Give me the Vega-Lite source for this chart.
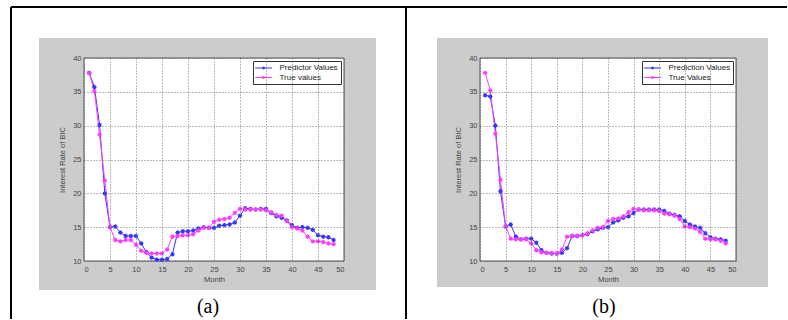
{
  "$schema": "https://vega.github.io/schema/vega-lite/v6.json",
  "background": "white",
  "padding": {"left": 9, "top": 5, "right": 0, "bottom": 0},
  "bounds": "flush",
  "spacing": 136,
  "config": {
    "view": {"stroke": null},
    "font": "Liberation Sans",
    "axis": {"labelOverlap": false, "grid": true, "gridDash": [1, 2], "gridColor": "#555555", "gridOpacity": 0.8, "ticks": false, "domain": false, "labelFontSize": 7.5, "labelColor": "#444444", "titleFontSize": 7.5, "titleFontWeight": "normal", "titleColor": "#444444", "zindex": 2},
    "axisX": {"tickCount": 10, "labelPadding": 4, "titlePadding": 3},
    "axisY": {"tickCount": 6, "labelPadding": 3, "titlePadding": 6},
    "legend": {"title": null, "orient": "top-right", "offset": 3, "fillColor": "white", "strokeColor": "#333333", "padding": 2.5, "labelFontSize": 8, "labelColor": "#222222", "symbolType": "M-1.2,0L3.0,0M0.5,0L1.3,0M0.9,-0.35L0.9,0.35M0.65,-0.25L1.15,0.25M0.65,0.25L1.15,-0.25", "symbolSize": 64, "symbolStrokeWidth": 1, "labelOffset": 15, "rowPadding": 0.5}
  },
  "datasets": {
    "a": [
      {"month": 1, "pred": 37.8, "true": 37.8},
      {"month": 2, "pred": 35.7, "true": 35.1},
      {"month": 3, "pred": 30.1, "true": 28.7},
      {"month": 4, "pred": 20.0, "true": 21.9},
      {"month": 5, "pred": 15.0, "true": 15.0},
      {"month": 6, "pred": 15.1, "true": 13.1},
      {"month": 7, "pred": 14.2, "true": 12.9},
      {"month": 8, "pred": 13.7, "true": 13.1},
      {"month": 9, "pred": 13.7, "true": 13.1},
      {"month": 10, "pred": 13.7, "true": 12.4},
      {"month": 11, "pred": 12.6, "true": 11.5},
      {"month": 12, "pred": 11.3, "true": 11.2},
      {"month": 13, "pred": 10.5, "true": 11.1},
      {"month": 14, "pred": 10.2, "true": 11.1},
      {"month": 15, "pred": 10.2, "true": 11.1},
      {"month": 16, "pred": 10.3, "true": 11.7},
      {"month": 17, "pred": 11.0, "true": 13.6},
      {"month": 18, "pred": 14.2, "true": 13.7},
      {"month": 19, "pred": 14.4, "true": 13.8},
      {"month": 20, "pred": 14.4, "true": 13.8},
      {"month": 21, "pred": 14.5, "true": 14.0},
      {"month": 22, "pred": 14.8, "true": 14.5},
      {"month": 23, "pred": 15.0, "true": 14.9},
      {"month": 24, "pred": 14.9, "true": 14.9},
      {"month": 25, "pred": 14.9, "true": 15.8},
      {"month": 26, "pred": 15.2, "true": 16.1},
      {"month": 27, "pred": 15.3, "true": 16.2},
      {"month": 28, "pred": 15.4, "true": 16.4},
      {"month": 29, "pred": 15.7, "true": 17.1},
      {"month": 30, "pred": 16.7, "true": 17.7},
      {"month": 31, "pred": 17.8, "true": 17.6},
      {"month": 32, "pred": 17.7, "true": 17.6},
      {"month": 33, "pred": 17.6, "true": 17.6},
      {"month": 34, "pred": 17.7, "true": 17.6},
      {"month": 35, "pred": 17.7, "true": 17.5},
      {"month": 36, "pred": 17.1, "true": 17.2},
      {"month": 37, "pred": 16.6, "true": 16.8},
      {"month": 38, "pred": 16.4, "true": 16.7},
      {"month": 39, "pred": 16.0, "true": 15.9},
      {"month": 40, "pred": 15.3, "true": 15.0},
      {"month": 41, "pred": 14.9, "true": 14.8},
      {"month": 42, "pred": 15.0, "true": 14.5},
      {"month": 43, "pred": 14.9, "true": 13.6},
      {"month": 44, "pred": 14.6, "true": 12.9},
      {"month": 45, "pred": 13.8, "true": 12.9},
      {"month": 46, "pred": 13.6, "true": 12.8},
      {"month": 47, "pred": 13.5, "true": 12.6},
      {"month": 48, "pred": 13.1, "true": 12.5}
    ],
    "b": [
      {"month": 1, "pred": 34.5, "true": 37.8},
      {"month": 2, "pred": 34.3, "true": 35.2},
      {"month": 3, "pred": 30.0, "true": 28.8},
      {"month": 4, "pred": 20.3, "true": 22.0},
      {"month": 5, "pred": 15.1, "true": 15.1},
      {"month": 6, "pred": 15.4, "true": 13.3},
      {"month": 7, "pred": 13.6, "true": 13.2},
      {"month": 8, "pred": 13.2, "true": 13.2},
      {"month": 9, "pred": 13.3, "true": 13.2},
      {"month": 10, "pred": 13.3, "true": 12.6},
      {"month": 11, "pred": 12.7, "true": 11.6},
      {"month": 12, "pred": 11.6, "true": 11.3},
      {"month": 13, "pred": 11.2, "true": 11.2},
      {"month": 14, "pred": 11.1, "true": 11.2},
      {"month": 15, "pred": 11.1, "true": 11.1},
      {"month": 16, "pred": 11.2, "true": 11.7},
      {"month": 17, "pred": 11.9, "true": 13.6},
      {"month": 18, "pred": 13.7, "true": 13.7},
      {"month": 19, "pred": 13.7, "true": 13.7},
      {"month": 20, "pred": 13.8, "true": 13.8},
      {"month": 21, "pred": 14.0, "true": 14.1},
      {"month": 22, "pred": 14.4, "true": 14.5},
      {"month": 23, "pred": 14.7, "true": 14.9},
      {"month": 24, "pred": 14.9, "true": 15.0},
      {"month": 25, "pred": 15.0, "true": 15.9},
      {"month": 26, "pred": 15.7, "true": 16.2},
      {"month": 27, "pred": 16.0, "true": 16.3},
      {"month": 28, "pred": 16.4, "true": 16.6},
      {"month": 29, "pred": 16.6, "true": 17.2},
      {"month": 30, "pred": 17.1, "true": 17.7},
      {"month": 31, "pred": 17.6, "true": 17.6},
      {"month": 32, "pred": 17.6, "true": 17.5},
      {"month": 33, "pred": 17.6, "true": 17.5},
      {"month": 34, "pred": 17.6, "true": 17.5},
      {"month": 35, "pred": 17.6, "true": 17.4},
      {"month": 36, "pred": 17.4, "true": 17.0},
      {"month": 37, "pred": 17.0, "true": 16.9},
      {"month": 38, "pred": 16.8, "true": 16.7},
      {"month": 39, "pred": 16.6, "true": 16.2},
      {"month": 40, "pred": 15.9, "true": 15.1},
      {"month": 41, "pred": 15.4, "true": 15.0},
      {"month": 42, "pred": 15.1, "true": 14.8},
      {"month": 43, "pred": 14.9, "true": 14.3},
      {"month": 44, "pred": 14.1, "true": 13.3},
      {"month": 45, "pred": 13.5, "true": 13.2},
      {"month": 46, "pred": 13.3, "true": 13.2},
      {"month": 47, "pred": 13.2, "true": 13.0},
      {"month": 48, "pred": 13.0, "true": 12.6}
    ]
  },
  "resolve": {"scale": {"color": "independent", "x": "independent", "y": "independent"}, "legend": {"color": "independent"}},
  "hconcat": [
    {
      "width": 260,
      "height": 203,
      "title": {"text": "(a)", "orient": "bottom", "font": "Liberation Serif", "fontSize": 20, "fontWeight": "normal", "color": "black", "offset": -23, "dx": -6},
      "layer": [
        {
          "data": {"values": [{}]},
          "mark": {"type": "rect", "fill": "#cccccc", "clip": false},
          "encoding": {
            "x": {"datum": -8.65, "type": "quantitative", "scale": {"domain": [0, 50], "nice": false, "zero": false}, "axis": {"title": "Month", "zindex": 2}},
            "x2": {"datum": 56.15},
            "y": {"datum": 5.71, "type": "quantitative", "scale": {"domain": [10, 40], "nice": false, "zero": false}, "axis": {"title": "Interest Rate of BIC", "zindex": 2}},
            "y2": {"datum": 42.96}
          }
        },
        {
          "data": {"values": [{}]},
          "mark": {"type": "rect", "fill": "white", "stroke": "#555555", "strokeWidth": 1, "clip": false},
          "encoding": {
            "x": {"datum": 0, "type": "quantitative"},
            "x2": {"datum": 50},
            "y": {"datum": 10, "type": "quantitative"},
            "y2": {"datum": 40}
          }
        },
        {
          "data": {"values": [{}]},
          "mark": {"type": "rule", "color": "black", "strokeWidth": 2, "clip": false},
          "encoding": {
            "x": {"datum": -14.04, "type": "quantitative"},
            "x2": {"datum": 61.92},
            "y": {"datum": 47.54, "type": "quantitative"}
          }
        },
        {
          "data": {"values": [{}]},
          "mark": {"type": "rule", "color": "black", "strokeWidth": 2, "clip": false},
          "encoding": {
            "x": {"datum": -14.04, "type": "quantitative"},
            "y": {"datum": 47.54, "type": "quantitative"},
            "y2": {"datum": 1.43}
          }
        },
        {
          "data": {"values": [{}]},
          "mark": {"type": "rule", "color": "black", "strokeWidth": 2, "clip": false},
          "encoding": {
            "x": {"datum": 61.92, "type": "quantitative"},
            "y": {"datum": 47.54, "type": "quantitative"},
            "y2": {"datum": 1.43}
          }
        },
        {
          "data": {"name": "a"},
          "transform": [{"fold": ["pred", "true"], "as": ["series", "value"]}],
          "mark": {"type": "line", "strokeWidth": 1},
          "encoding": {
            "x": {"field": "month", "type": "quantitative", "axis": {"title": "Month", "zindex": 2}},
            "y": {"field": "value", "type": "quantitative", "axis": {"title": "Interest Rate of BIC", "zindex": 2}},
            "color": {"field": "series", "type": "nominal", "scale": {"domain": ["pred", "true"], "range": ["#3434ff", "#ff3cff"]},
              "legend": {"labelExpr": "datum.value == 'pred' ? 'Predictor Values' : 'True values'"}}
          }
        },
        {
          "data": {"name": "a"},
          "transform": [{"fold": ["pred", "true"], "as": ["series", "value"]}],
          "mark": {"type": "point", "shape": "M-1,0L1,0M0,-1L0,1M-0.7,-0.7L0.7,0.7M-0.7,0.7L0.7,-0.7", "size": 20, "filled": false, "strokeWidth": 1.1, "opacity": 1},
          "encoding": {
            "x": {"field": "month", "type": "quantitative"},
            "y": {"field": "value", "type": "quantitative"},
            "color": {"field": "series", "type": "nominal", "legend": {"labelExpr": "datum.value == 'pred' ? 'Predictor Values' : 'True values'"}}
          }
        }
      ]
    },
    {
      "width": 256,
      "height": 203,
      "title": {"text": "(b)", "orient": "bottom", "font": "Liberation Serif", "fontSize": 20, "fontWeight": "normal", "color": "black", "offset": 10, "dx": -4},
      "layer": [
        {
          "data": {"values": [{}]},
          "mark": {"type": "rect", "fill": "#cccccc", "clip": false},
          "encoding": {
            "x": {"datum": -8.40, "type": "quantitative", "scale": {"domain": [0, 50], "nice": false, "zero": false}, "axis": {"title": "Month", "zindex": 2}},
            "x2": {"datum": 56.25},
            "y": {"datum": 6.16, "type": "quantitative", "scale": {"domain": [10, 40], "nice": false, "zero": false}, "axis": {"title": "Interest Rate of BIC", "zindex": 2}},
            "y2": {"datum": 42.96}
          }
        },
        {
          "data": {"values": [{}]},
          "mark": {"type": "rect", "fill": "white", "stroke": "#555555", "strokeWidth": 1, "clip": false},
          "encoding": {
            "x": {"datum": 0, "type": "quantitative"},
            "x2": {"datum": 50},
            "y": {"datum": 10, "type": "quantitative"},
            "y2": {"datum": 40}
          }
        },
        {
          "data": {"values": [{}]},
          "mark": {"type": "rule", "color": "black", "strokeWidth": 2, "clip": false},
          "encoding": {
            "x": {"datum": -14.45, "type": "quantitative"},
            "x2": {"datum": 59.96},
            "y": {"datum": 47.54, "type": "quantitative"}
          }
        },
        {
          "data": {"name": "b"},
          "transform": [{"fold": ["pred", "true"], "as": ["series", "value"]}],
          "mark": {"type": "line", "strokeWidth": 1},
          "encoding": {
            "x": {"field": "month", "type": "quantitative", "axis": {"title": "Month", "zindex": 2}},
            "y": {"field": "value", "type": "quantitative", "axis": {"title": "Interest Rate of BIC", "zindex": 2}},
            "color": {"field": "series", "type": "nominal", "scale": {"domain": ["pred", "true"], "range": ["#3434ff", "#ff3cff"]},
              "legend": {"labelExpr": "datum.value == 'pred' ? 'Prediction Values' : 'True Values'"}}
          }
        },
        {
          "data": {"name": "b"},
          "transform": [{"fold": ["pred", "true"], "as": ["series", "value"]}],
          "mark": {"type": "point", "shape": "M-1,0L1,0M0,-1L0,1M-0.7,-0.7L0.7,0.7M-0.7,0.7L0.7,-0.7", "size": 20, "filled": false, "strokeWidth": 1.1, "opacity": 1},
          "encoding": {
            "x": {"field": "month", "type": "quantitative"},
            "y": {"field": "value", "type": "quantitative"},
            "color": {"field": "series", "type": "nominal", "legend": {"labelExpr": "datum.value == 'pred' ? 'Prediction Values' : 'True Values'"}}
          }
        }
      ]
    }
  ]
}
